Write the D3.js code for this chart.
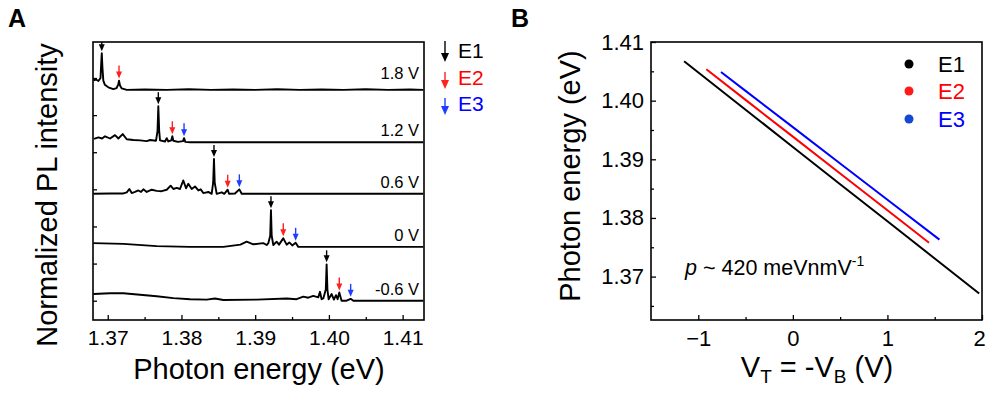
<!DOCTYPE html>
<html>
<head>
<meta charset="utf-8">
<script src="https://cdn.jsdelivr.net/npm/d3@7"></script>
<style>
    body { margin: 0; background: #fff; }
    svg text { font-family: "Liberation Sans", Arial, sans-serif; fill: #000; }
</style>
</head>
<body>
<div id="chart"></div>
<script>
// ---- Panel A: stacked PL spectra ----
const voltageLabels = ['1.8 V', '1.2 V', '0.6 V', '0 V', '-0.6 V'];
const stackOffsets = [5.68, 4.27, 2.88, 1.45, 0];
const energyTicks = [1.37, 1.38, 1.39, 1.40, 1.41];
const energyMinor = [1.375, 1.385, 1.395, 1.405];
const intensityTicks = [0, 1, 2, 3, 4, 5, 6];

// [photon energy (eV), normalized intensity]
const spec18 = [
    [1.36805, 0.26], [1.36841, 0.28], [1.36873, 0.24], [1.36902, 0.32], [1.36911, 0.7],
    [1.36919, 0.99], [1.36928, 0.6], [1.36940, 0.25], [1.36960, 0.14], [1.37008, 0.07],
    [1.37076, 0.02], [1.37120, 0.05], [1.37142, 0.14], [1.37153, 0.25], [1.37166, 0.12],
    [1.37190, 0.04], [1.37258, 0.0], [1.3750, 0.01], [1.3780, 0.0], [1.3810, 0.015],
    [1.3840, 0.0], [1.3870, 0.01], [1.3900, 0.0], [1.3930, 0.015], [1.3960, 0.0],
    [1.3990, 0.01], [1.4020, 0.0], [1.4050, 0.015], [1.4080, 0.0], [1.4110, 0.01], [1.4128, 0.0]
];
const spec12 = [
    [1.36814, 0.09], [1.36873, 0.13], [1.36923, 0.10], [1.36963, 0.16], [1.37031, 0.10],
    [1.37099, 0.19], [1.37144, 0.10], [1.37203, 0.22], [1.37258, 0.08], [1.37347, 0.06],
    [1.37438, 0.05], [1.37529, 0.03], [1.37574, 0.06], [1.37655, 0.04], [1.37675, 0.3],
    [1.37686, 0.97], [1.37698, 0.3], [1.37709, 0.05], [1.37777, 0.02], [1.37800, 0.11],
    [1.37822, 0.02], [1.37862, 0.05], [1.37876, 0.16], [1.37890, 0.04], [1.37953, 0.01],
    [1.38021, 0.03], [1.38035, 0.11], [1.38052, 0.01], [1.38116, 0.0], [1.4128, 0.0]
];
const spec06 = [
    [1.36805, 0.0], [1.37031, 0.01], [1.37212, 0.01], [1.37258, 0.04], [1.37293, 0.13],
    [1.37325, 0.02], [1.37370, 0.05], [1.37415, 0.09], [1.37452, 0.05], [1.37483, 0.12],
    [1.37529, 0.05], [1.37597, 0.11], [1.37664, 0.08], [1.37732, 0.07], [1.37800, 0.11],
    [1.37854, 0.22], [1.37890, 0.13], [1.37936, 0.16], [1.37980, 0.13], [1.38025, 0.36],
    [1.38062, 0.15], [1.38093, 0.27], [1.38139, 0.13], [1.38184, 0.20], [1.38229, 0.09],
    [1.38261, 0.12], [1.38296, 0.02], [1.38364, 0.05], [1.38410, 0.0], [1.38430, 0.3],
    [1.38441, 0.94], [1.38451, 0.3], [1.38478, 0.0], [1.38546, 0.04], [1.38581, 0.0],
    [1.38627, 0.11], [1.38645, 0.0], [1.38726, 0.01], [1.38785, 0.12], [1.38817, 0.0],
    [1.4128, 0.0]
];
const spec00 = [
    [1.36805, 0.10], [1.37212, 0.08], [1.37664, 0.02], [1.38116, 0.0], [1.38568, 0.0],
    [1.38800, 0.06], [1.38884, 0.14], [1.38975, 0.07], [1.39110, 0.10], [1.39156, 0.05],
    [1.39178, 0.10], [1.39204, 0.3], [1.39214, 0.99], [1.39224, 0.3], [1.39246, 0.05],
    [1.39291, 0.14], [1.39323, 0.06], [1.39381, 0.23], [1.39427, 0.06], [1.39463, 0.12],
    [1.39503, 0.04], [1.39549, 0.11], [1.39585, 0.0], [1.4128, 0.0]
];
const specM06 = [
    [1.36805, 0.18], [1.37031, 0.20], [1.37212, 0.20], [1.37438, 0.16], [1.37664, 0.12],
    [1.37890, 0.07], [1.38116, 0.04], [1.38342, 0.03], [1.38455, 0.06], [1.38568, 0.02],
    [1.39020, 0.03], [1.39427, 0.06], [1.39562, 0.04], [1.39653, 0.11], [1.39720, 0.08],
    [1.39788, 0.13], [1.39856, 0.09], [1.39879, 0.24], [1.39901, 0.04], [1.39924, 0.06],
    [1.39958, 0.3], [1.39969, 0.98], [1.39980, 0.3], [1.39996, 0.04], [1.40037, 0.18],
    [1.40068, 0.03], [1.40096, 0.15], [1.40118, 0.04], [1.40141, 0.22], [1.40172, 0.0],
    [1.40240, 0.0], [1.40295, 0.05], [1.40331, 0.0], [1.4128, 0.0]
];
const spectra = [spec18, spec12, spec06, spec00, specM06];

// peak positions marked by arrows (eV)
const e1Peaks = [1.36919, 1.37686, 1.38441, 1.39214, 1.39969];
const e2Peaks = [1.37153, 1.37876, 1.38627, 1.39381, 1.40141];
const e3Peaks = [null, 1.38035, 1.38785, 1.39549, 1.40295];

// ---- Panel B: peak energy vs gate voltage ----
const seriesNames = ['E1', 'E2', 'E3'];
const seriesColors = ['#000000', '#ff0000', '#0000ff'];
const legendDotColors = ['#000000', '#ff1a1a', '#1447d4'];
const voltE1 = [-1.15, -0.5, 0, 0.5, 1.0, 1.5, 1.97];
const energyE1 = [1.40671, 1.39846, 1.39210, 1.38575, 1.37943, 1.37309, 1.36712];
const voltE2 = [-0.915, -0.5, 0, 0.5, 1.0, 1.44];
const energyE2 = [1.40534, 1.40013, 1.39386, 1.38758, 1.38130, 1.37578];
const voltE3 = [-0.76, -0.5, 0, 0.5, 1.0, 1.55];
const energyE3 = [1.40489, 1.40167, 1.39548, 1.38929, 1.38310, 1.37630];
const voltTicks = [-1, 0, 1, 2];
const voltMinor = [-0.5, 0.5, 1.5];
const peTicks = [1.37, 1.38, 1.39, 1.40, 1.41];
const peMinor = [1.365, 1.375, 1.385, 1.395, 1.405];

const W = 987, H = 393;
const svg = d3.select('#chart').append('svg')
    .attr('width', W)
    .attr('height', H);

svg.append('rect').attr('width', W).attr('height', H).attr('fill', '#fff');

// panel letters
svg.append('text').attr('x', 8).attr('y', 27)
    .style('font-size', '25px').style('font-weight', '700').text('A');
svg.append('text').attr('x', 511).attr('y', 27)
    .style('font-size', '25px').style('font-weight', '700').text('B');

// ================= Panel A =================
const ax = d3.scaleLinear().domain([1.368, 1.4129]).range([93, 424]);
const ay = d3.scaleLinear().domain([-0.52, 6.97]).range([320, 42]);

svg.append('clipPath').attr('id', 'clipA')
    .append('rect').attr('x', 93).attr('y', 42).attr('width', 331).attr('height', 278);

const gA = svg.append('g');
const plotA = gA.append('g').attr('clip-path', 'url(#clipA)');

const specLine = offset => d3.line()
    .x(d => ax(d[0]))
    .y(d => ay(offset + d[1]));

spectra.forEach((s, i) => {
    plotA.append('path')
        .datum(s)
        .attr('d', specLine(stackOffsets[i]))
        .attr('fill', 'none')
        .attr('stroke', '#000')
        .attr('stroke-width', 1.9)
        .attr('stroke-linejoin', 'round');
});

function drawArrow(g, x, yTip, len, color, headW, headH) {
    g.append('line')
        .attr('x1', x).attr('x2', x)
        .attr('y1', yTip - len).attr('y2', yTip - headH + 1)
        .attr('stroke', color)
        .attr('stroke-width', 1.4);
    g.append('path')
        .attr('d', `M${x - headW / 2},${yTip - headH}L${x + headW / 2},${yTip - headH}L${x},${yTip}Z`)
        .attr('fill', color);
}

function peakTop(s, e) {
    return d3.max(s.filter(d => Math.abs(d[0] - e) < 0.00016), d => d[1]);
}

spectra.forEach((s, i) => {
    const marks = [[e1Peaks[i], '#000', 12], [e2Peaks[i], '#ff2020', 13], [e3Peaks[i], '#1f3cff', 13]];
    marks.forEach(([e, c, len]) => {
        if (e == null) return;
        const tip = ay(stackOffsets[i] + peakTop(s, e)) - 2;
        drawArrow(plotA, ax(e), tip, len, c, 6, 7);
    });
    gA.append('text')
        .attr('x', 419)
        .attr('y', ay(stackOffsets[i]) - (i === 0 ? 11 : 6))
        .attr('text-anchor', 'end')
        .style('font-size', '16.5px')
        .text(voltageLabels[i]);
});

// axes A
const axA = gA.append('g').attr('transform', 'translate(0,320)')
    .call(d3.axisBottom(ax).tickValues(energyTicks).tickFormat(d3.format('.2f'))
        .tickSizeInner(-5).tickSizeOuter(0).tickPadding(10));
axA.selectAll('text').style('font-size', '21px');
gA.append('g').attr('transform', 'translate(0,320)')
    .call(d3.axisBottom(ax).tickValues(energyMinor).tickFormat('')
        .tickSizeInner(-3).tickSizeOuter(0));
gA.append('g').attr('transform', 'translate(93,0)')
    .call(d3.axisLeft(ay).tickValues(intensityTicks).tickFormat('')
        .tickSizeInner(-4).tickSizeOuter(0));
gA.selectAll('.domain').remove();
gA.selectAll('.tick line').attr('stroke', '#000').attr('stroke-width', 1.3);

gA.append('rect')
    .attr('x', 93).attr('y', 42).attr('width', 331).attr('height', 278)
    .attr('fill', 'none').attr('stroke', '#000').attr('stroke-width', 1.6);

gA.append('text')
    .attr('x', 259).attr('y', 379)
    .attr('text-anchor', 'middle')
    .style('font-size', '29px')
    .text('Photon energy (eV)');

gA.append('text')
    .attr('transform', 'translate(57,195) rotate(-90)')
    .attr('text-anchor', 'middle')
    .style('font-size', '29px')
    .text('Normalized PL intensity');

// legend A
const legA = svg.append('g');
seriesNames.forEach((name, i) => {
    const tipY = [62, 89, 115][i];
    const len = i === 0 ? 21 : 17;
    drawArrow(legA, 445, tipY, len, ['#000', '#ff2020', '#1f3cff'][i], 8, 9);
    legA.append('text')
        .attr('x', 458).attr('y', tipY - 4)
        .style('font-size', '21px')
        .style('fill', seriesColors[i])
        .text(name);
});

// ================= Panel B =================
const bx = d3.scaleLinear().domain([-1.5, 2]).range([651, 982]);
const by = d3.scaleLinear().domain([1.3626, 1.41]).range([320, 42]);
const gB = svg.append('g');

const seriesB = [
    voltE1.map((v, k) => [v, energyE1[k]]),
    voltE2.map((v, k) => [v, energyE2[k]]),
    voltE3.map((v, k) => [v, energyE3[k]])
];
const lineB = d3.line().x(d => bx(d[0])).y(d => by(d[1]));
seriesB.forEach((s, i) => {
    gB.append('path')
        .datum(s)
        .attr('d', lineB)
        .attr('fill', 'none')
        .attr('stroke', seriesColors[i])
        .attr('stroke-width', 2);
});

const bxAxis = gB.append('g').attr('transform', 'translate(0,320)')
    .call(d3.axisBottom(bx).tickValues(voltTicks).tickFormat(d3.format('d'))
        .tickSizeInner(-5).tickSizeOuter(0).tickPadding(10));
bxAxis.selectAll('text').style('font-size', '22px');
// keep the last label inside the page edge
bxAxis.selectAll('.tick text').filter(d => d === 2).attr('dx', -3);
gB.append('g').attr('transform', 'translate(0,320)')
    .call(d3.axisBottom(bx).tickValues(voltMinor).tickFormat('')
        .tickSizeInner(-3).tickSizeOuter(0));
const byAxis = gB.append('g').attr('transform', 'translate(651,0)')
    .call(d3.axisLeft(by).tickValues(peTicks).tickFormat(d3.format('.2f'))
        .tickSizeInner(-5).tickSizeOuter(0).tickPadding(7));
byAxis.selectAll('text').style('font-size', '22px');
gB.append('g').attr('transform', 'translate(651,0)')
    .call(d3.axisLeft(by).tickValues(peMinor).tickFormat('')
        .tickSizeInner(-3).tickSizeOuter(0));
gB.selectAll('.domain').remove();
gB.selectAll('.tick line').attr('stroke', '#000').attr('stroke-width', 1.3);

gB.append('rect')
    .attr('x', 651).attr('y', 42).attr('width', 331).attr('height', 278)
    .attr('fill', 'none').attr('stroke', '#000').attr('stroke-width', 1.6);

// legend B
seriesNames.forEach((name, i) => {
    const cy = [64, 91, 119][i];
    gB.append('circle')
        .attr('cx', 909).attr('cy', cy).attr('r', 4.5)
        .attr('fill', legendDotColors[i]);
    gB.append('text')
        .attr('x', 938).attr('y', cy + 8)
        .style('font-size', '22px')
        .style('fill', seriesColors[i])
        .text(name);
});

// annotation
const ann = gB.append('text').attr('x', 685).attr('y', 275).style('font-size', '21.5px');
ann.append('tspan').style('font-style', 'italic').text('p');
ann.append('tspan').text(' ~ 420 meVnmV');
ann.append('tspan').attr('dy', -9).style('font-size', '14px').text('-1');

// axis titles B
const xt = gB.append('text')
    .attr('x', 817).attr('y', 377)
    .attr('text-anchor', 'middle')
    .style('font-size', '29px');
xt.append('tspan').text('V');
xt.append('tspan').attr('dy', 6).style('font-size', '19px').text('T');
xt.append('tspan').attr('dy', -6).text(' = -V');
xt.append('tspan').attr('dy', 6).style('font-size', '19px').text('B');
xt.append('tspan').attr('dy', -6).text(' (V)');

gB.append('text')
    .attr('transform', 'translate(580,176) rotate(-90)')
    .attr('text-anchor', 'middle')
    .style('font-size', '29px')
    .text('Photon energy (eV)');
</script>
</body>
</html>
